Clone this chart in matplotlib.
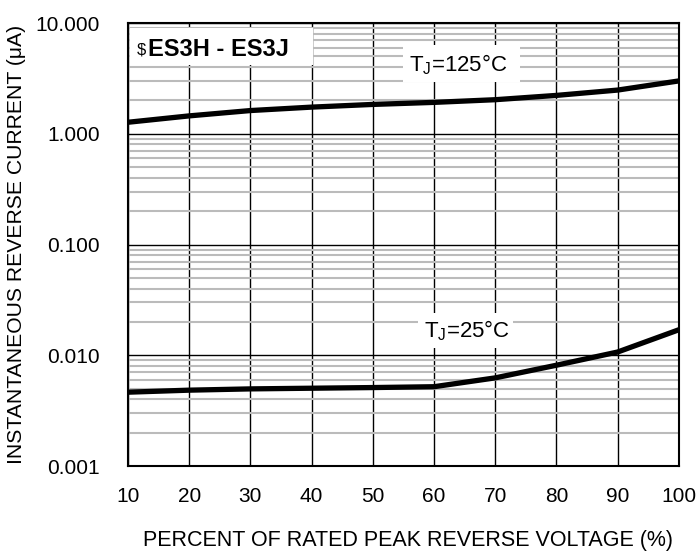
import matplotlib
matplotlib.use('Agg')
import matplotlib.pyplot as plt
from matplotlib.ticker import FixedLocator, LogLocator, NullFormatter

plt.rcParams['font.family'] = ['Liberation Sans', 'DejaVu Sans']
plt.rcParams['mathtext.fontset'] = 'custom'
plt.rcParams['mathtext.rm'] = 'Liberation Sans'
plt.rcParams['mathtext.it'] = 'Liberation Sans'

# Data
voltage_pct = [10, 20, 30, 40, 50, 60, 70, 80, 90, 100]
current_125c = [1.27, 1.45, 1.62, 1.74, 1.84, 1.92, 2.03, 2.22, 2.48, 3.0]
current_25c = [0.00464, 0.00484, 0.00497, 0.00504, 0.00511, 0.0052, 0.00625, 0.00813, 0.0107, 0.0170]

x_ticks = [10, 20, 30, 40, 50, 60, 70, 80, 90, 100]
y_ticks = [0.001, 0.01, 0.1, 1, 10]
y_tick_labels = ['0.001', '0.010', '0.100', '1.000', '10.000']

fig = plt.figure(figsize=(6.97, 5.53), dpi=100)
ax = fig.add_axes([0.1836, 0.1573, 0.7904, 0.8011])

ax.set_yscale('log')
ax.set_xlim(10, 100)
ax.set_ylim(0.001, 10)

# grid: minor log lines grey, decades and verticals black
ax.yaxis.set_minor_locator(LogLocator(base=10, subs=range(2, 10)))
ax.yaxis.set_minor_formatter(NullFormatter())
ax.grid(which='minor', axis='y', color='#bbbbbb', lw=1.5)
ax.grid(which='major', axis='y', color='black', lw=1.0)
ax.grid(which='major', axis='x', color='black', lw=1.0)
ax.set_axisbelow(True)

ax.plot(voltage_pct, current_125c, color='black', lw=3.8, solid_capstyle='butt', zorder=3)
ax.plot(voltage_pct, current_25c, color='black', lw=3.8, solid_capstyle='butt', zorder=3)

ax.xaxis.set_major_locator(FixedLocator(x_ticks))
ax.set_xticklabels([str(v) for v in x_ticks])
ax.yaxis.set_major_locator(FixedLocator(y_ticks))
ax.set_yticklabels(y_tick_labels)
ax.tick_params(axis='both', which='both', length=0, labelsize=15)
ax.tick_params(axis='x', pad=15)
ax.tick_params(axis='y', pad=20)

for s in ax.spines.values():
    s.set_linewidth(1.5)
    s.set_color('black')

ax.set_xlabel('PERCENT OF RATED PEAK REVERSE VOLTAGE (%)', fontsize=15.5)
ax.xaxis.set_label_coords(0.508, -0.145)
ax.set_ylabel('INSTANTANEOUS REVERSE CURRENT (\u03bcA)', fontsize=15.2, labelpad=7)

# white label boxes
ax.add_patch(plt.Rectangle((0.004, 0.905), 0.332, 0.084, transform=ax.transAxes,
                           facecolor='white', edgecolor='none', zorder=2.5))
ax.add_patch(plt.Rectangle((0.499, 0.867), 0.213, 0.083, transform=ax.transAxes,
                           facecolor='white', edgecolor='none', zorder=2.5))
ax.add_patch(plt.Rectangle((0.526, 0.266), 0.172, 0.079, transform=ax.transAxes,
                           facecolor='white', edgecolor='none', zorder=2.5))

ax.text(0.016, 0.940, '$', transform=ax.transAxes, fontsize=12, va='center', ha='left', zorder=4)
ax.text(0.036, 0.940, 'ES3H - ES3J', transform=ax.transAxes, fontsize=17, fontweight='bold',
        va='center', ha='left', zorder=4)
ax.text(0.599, 0.905, r'T$_\mathregular{J}$=125°C', transform=ax.transAxes, fontsize=16,
        va='center', ha='center', zorder=4)
ax.text(0.616, 0.305, r'T$_\mathregular{J}$=25°C', transform=ax.transAxes, fontsize=16,
        va='center', ha='center', zorder=4)

fig.savefig('out.png', dpi=100)
